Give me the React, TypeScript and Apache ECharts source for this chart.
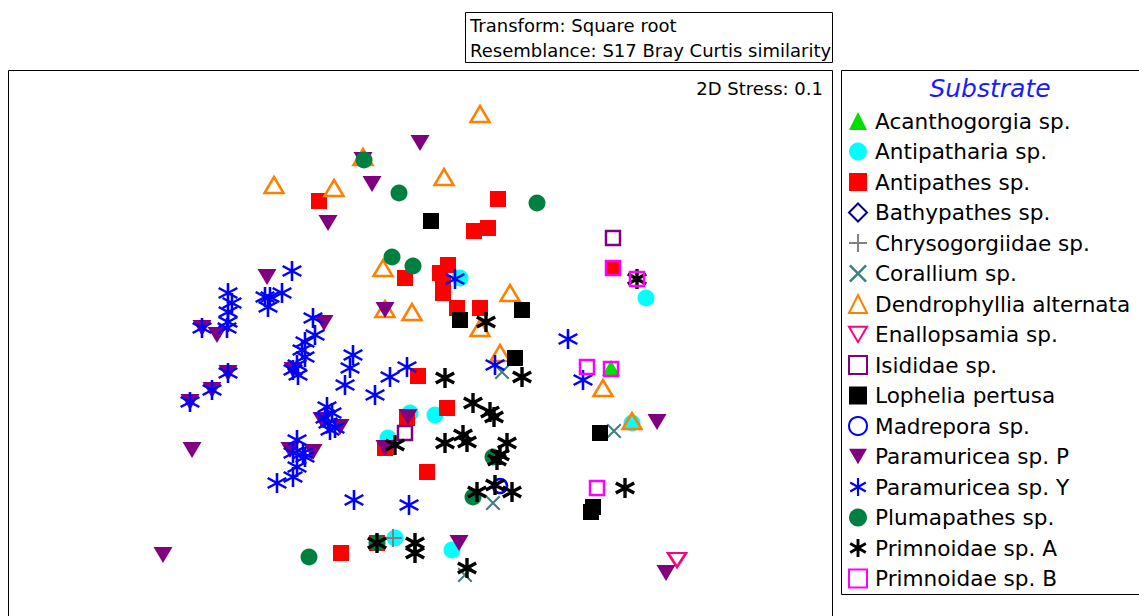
import React, { useEffect, useRef } from "react";
import * as echarts from "echarts";

// NMDS coordinates (arbitrary MDS units)
const acanthogorgia = [[1.91, -0.25]];
const antipatharia = [[0.40, 0.65], [2.26, 0.45], [2.12, -0.80], [-0.10, -0.70], [0.15, -0.72], [-0.32, -0.95], [-0.25, -1.95], [0.32, -2.07]];
const antipathes = [[-1.01, 1.42], [0.78, 1.44], [0.54, 1.12], [0.68, 1.15], [0.28, 0.78], [-0.15, 0.65], [0.20, 0.70], [0.23, 0.60], [0.23, 0.50], [0.37, 0.35], [0.60, 0.35], [-0.02, -0.33], [0.27, -0.65], [-0.13, -0.75], [0.07, -1.29], [-0.79, -2.10], [-0.43, -2.00], [-0.35, -1.05], [1.93, 0.75]];
const bathypathes: number[][] = [];
const chrysogorgiidae = [[-0.27, -1.95]];
const corallium = [[0.82, -0.29], [1.94, -0.88], [0.73, -1.60], [0.45, -2.32]];
const dendrophyllia = [[-1.46, 1.58], [-0.86, 1.55], [-0.57, 1.86], [0.60, 2.29], [0.24, 1.66], [-0.37, 0.75], [0.90, 0.50], [0.60, 0.15], [-0.35, 0.34], [-0.08, 0.31], [0.80, -0.10], [1.83, -0.45], [2.12, -0.78]];
const enallopsamia = [[2.57, -2.17]];
const isididae = [[1.93, 1.05], [-0.15, -0.90]];
const lophelia = [[0.11, 1.22], [0.40, 0.23], [1.02, 0.33], [0.95, -0.15], [1.80, -0.90], [1.71, -1.69], [1.73, -1.64]];
const madrepora = [[0.80, -1.43]];
const paramuriceaP = [[-0.57, 1.83], [-0.48, 1.59], [0.00, 2.00], [-0.92, 1.20], [-1.53, 0.66], [-2.03, 0.08], [-2.18, 0.15], [-0.96, 0.20], [-1.27, -0.27], [-1.92, -0.30], [-2.08, -0.47], [-2.30, -0.59], [-2.28, -1.07], [-1.30, -1.07], [-1.07, -1.09], [-2.57, -2.12], [-0.35, 0.33], [-0.12, -0.74], [-0.35, -1.05], [0.39, -2.00], [2.37, -0.79], [2.46, -2.30], [-0.80, -0.84], [-0.98, -0.77]];
const paramuriceaY = [[-1.28, 0.72], [-1.50, 0.46], [-1.38, 0.50], [-1.52, 0.36], [-1.55, 0.46], [-1.92, 0.50], [-1.88, 0.40], [-1.92, 0.31], [-1.92, 0.21], [-1.93, 0.15], [-2.18, 0.15], [-1.07, 0.25], [-1.05, 0.08], [-1.15, 0.01], [-1.18, -0.07], [-1.15, -0.14], [-1.23, -0.22], [-1.27, -0.27], [-1.22, -0.32], [-1.92, -0.30], [-2.08, -0.47], [-2.30, -0.59], [-0.67, -0.12], [-0.70, -0.25], [-0.75, -0.42], [-0.45, -0.52], [-0.30, -0.34], [-0.13, -0.24], [-0.93, -0.64], [-0.88, -0.70], [-0.92, -0.80], [-0.85, -0.85], [-0.90, -0.87], [-0.95, -0.75], [-1.23, -0.97], [-1.27, -1.10], [-1.17, -1.10], [-1.23, -1.24], [-1.27, -1.34], [-1.43, -1.40], [-1.15, -1.14], [-0.66, -1.57], [-0.11, -1.62], [0.35, 0.64], [0.75, -0.22], [1.48, 0.04], [1.63, -0.37]];
const plumapathes = [[-0.56, 1.83], [-0.21, 1.50], [1.17, 1.40], [-0.28, 0.86], [-0.07, 0.77], [0.73, -1.14], [0.53, -1.54], [-1.11, -2.14], [-0.43, -2.00]];
const primnoidaeA = [[0.66, 0.21], [1.02, -0.34], [0.25, -0.35], [0.53, -0.60], [0.70, -0.69], [0.74, -0.74], [0.43, -0.92], [0.47, -0.99], [0.25, -1.00], [0.87, -1.00], [0.80, -1.12], [0.77, -1.17], [0.57, -1.49], [0.75, -1.42], [0.92, -1.49], [-0.25, -1.02], [-0.43, -2.00], [-0.05, -2.00], [-0.05, -2.10], [0.47, -2.25], [2.05, -1.45], [2.17, 0.64]];
const primnoidaeB = [[1.93, 0.75], [2.17, 0.64], [1.67, -0.24], [1.91, -0.26], [1.77, -1.45]];

const names = [
  "Acanthogorgia sp.", "Antipatharia sp.", "Antipathes sp.", "Bathypathes sp.",
  "Chrysogorgiidae sp.", "Corallium sp.", "Dendrophyllia alternata", "Enallopsamia sp.",
  "Isididae sp.", "Lophelia pertusa", "Madrepora sp.", "Paramuricea sp. P",
  "Paramuricea sp. Y", "Plumapathes sp.", "Primnoidae sp. A", "Primnoidae sp. B",
];

const ASTER = "path://M8.8,0H11.2V20H8.8Z M0.74,6.04L1.94,3.96L19.26,13.96L18.06,16.04Z M0.74,13.96L18.06,3.96L19.26,6.04L1.94,16.04Z";
const ASTER_B = "path://M8.4,0H11.6V20H8.4Z M0.54,6.39L2.14,3.61L19.46,13.61L17.86,16.39Z M0.54,13.61L17.86,3.61L19.46,6.39L2.14,16.39Z";
const PLUS = "path://M8.9,0H11.1V8.9H20V11.1H11.1V20H8.9V11.1H0V8.9H8.9Z";
const CROSS = "path://M2.15,3.71L3.71,2.15L17.85,16.29L16.29,17.85Z M2.15,16.29L16.29,2.15L17.85,3.71L3.71,17.85Z";
const DOWN = "path://M0,0L20,0L10,17Z";

const CLEAR = "rgba(255,255,255,0)";

function filled(name: string, data: number[][], symbol: string, size: any, color: string) {
  return { name, type: "scatter", data, symbol, symbolSize: size, itemStyle: { color, opacity: 1 } };
}
function hollow(name: string, data: number[][], symbol: string, size: any, color: string, bw = 2.5) {
  return {
    name, type: "scatter", data, symbol, symbolSize: size,
    itemStyle: { color: CLEAR, borderColor: color, borderWidth: bw, opacity: 1 },
  };
}

export default function App() {
  const ref = useRef<HTMLDivElement>(null);
  useEffect(() => {
    if (!ref.current) return;
    const chart = echarts.init(ref.current, undefined, { renderer: "svg" });
    const series = [
      filled(names[0], acanthogorgia, "triangle", [18, 16], "#00e000"),
      filled(names[1], antipatharia, "circle", 17, "#00ffff"),
      filled(names[2], antipathes, "rect", 16, "#ff0000"),
      hollow(names[3], bathypathes, "diamond", 16, "#000099"),
      filled(names[4], chrysogorgiidae, PLUS, 18, "#808080"),
      filled(names[5], corallium, CROSS, 15, "#408080"),
      hollow(names[6], dendrophyllia, "triangle", [19, 16], "#ff8000"),
      hollow(names[7], enallopsamia, DOWN, [18, 14], "#ff0080"),
      hollow(names[8], isididae, "rect", 14, "#800080"),
      filled(names[9], lophelia, "rect", 16, "#000000"),
      hollow(names[10], madrepora, "circle", 14, "#0000ff"),
      filled(names[11], paramuriceaP, DOWN, [19, 16], "#800080"),
      filled(names[12], paramuriceaY, ASTER, 20, "#0000ff"),
      filled(names[13], plumapathes, "circle", 17, "#008040"),
      filled(names[14], primnoidaeA, ASTER_B, 20, "#000000"),
      hollow(names[15], primnoidaeB, "rect", 14, "#ff00ff"),
    ].map((s: any) => ({ ...s, emphasis: { disabled: true }, silent: true }));

    chart.setOption({
      animation: false,
      backgroundColor: "#ffffff",
      grid: { left: 8, top: 70, right: 307, bottom: 0, show: false },
      xAxis: { type: "value", min: -4.12, max: 4.12, show: false, splitLine: { show: false } },
      yAxis: { type: "value", min: -2.73, max: 2.73, show: false, splitLine: { show: false } },
      legend: {
        orient: "vertical",
        left: 848,
        top: 110,
        padding: 0,
        itemWidth: 18,
        itemHeight: 18,
        itemGap: 8.5,
        selectedMode: false,
        data: names,
        textStyle: { fontFamily: "DejaVu Sans", fontSize: 21.6, color: "#000", lineHeight: 22, padding: [0, 0, 0, 3] },
      },
      graphic: [
        { type: "rect", shape: { x: 465.5, y: 12.5, width: 367, height: 50 }, style: { fill: "#fff", stroke: "#000", lineWidth: 1 }, z: 0 },
        { type: "text", x: 470, y: 25, style: { text: "Transform: Square root", font: "18px 'DejaVu Sans'", fill: "#000", textVerticalAlign: "middle" } },
        { type: "text", x: 470, y: 50, style: { text: "Resemblance: S17 Bray Curtis similarity", font: "18px 'DejaVu Sans'", fill: "#000", textVerticalAlign: "middle" } },
        { type: "rect", shape: { x: 8.5, y: 70.5, width: 824, height: 560 }, style: { fill: "none", stroke: "#000", lineWidth: 1 }, z: -1 },
        { type: "text", x: 823, y: 88, style: { text: "2D Stress: 0.1", font: "18px 'DejaVu Sans'", fill: "#000", textAlign: "right", textVerticalAlign: "middle" } },
        { type: "rect", shape: { x: 841.5, y: 70.5, width: 310, height: 524 }, style: { fill: "none", stroke: "#000", lineWidth: 1 }, z: -1 },
        { type: "text", x: 990, y: 88, style: { text: "Substrate", font: "italic 25px 'DejaVu Sans'", fill: "#1a1aff", textAlign: "center", textVerticalAlign: "middle" } },
      ],
      series,
    });
    return () => chart.dispose();
  }, []);
  return <div ref={ref} style={{ position: "fixed", left: 0, top: 0, width: 1139, height: 616, background: "#fff" }} />;
}
